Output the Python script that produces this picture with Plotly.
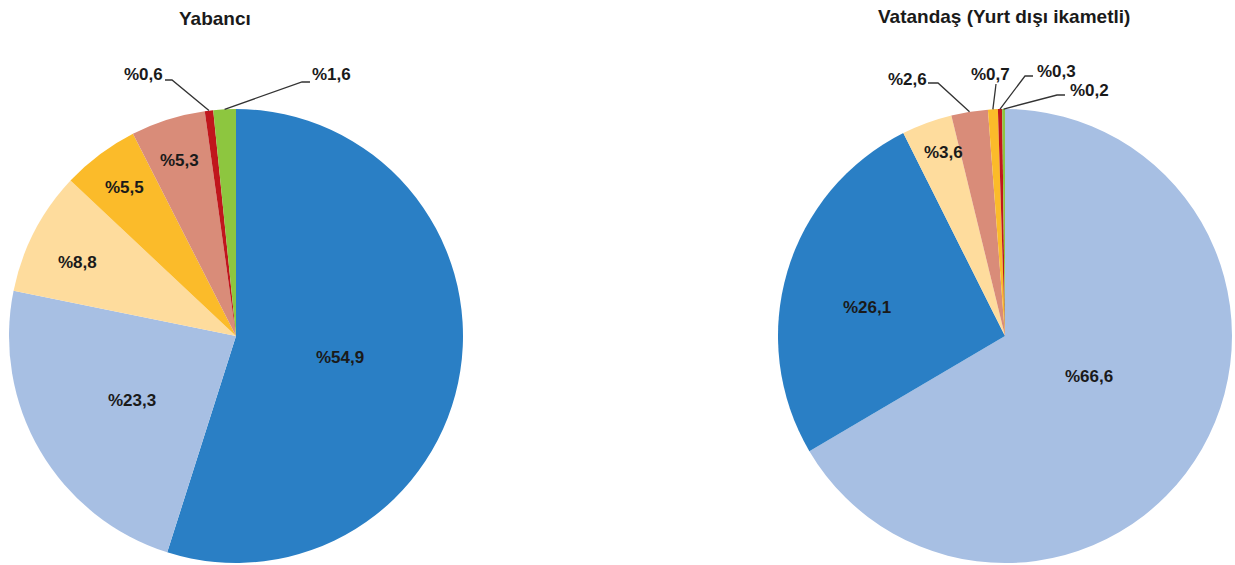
import math
import plotly.graph_objects as go

W, H = 1235, 565

# ---- data ----
titles = ["Yabancı", "Vatandaş (Yurt dışı ikametli)"]
left_values = [54.9, 23.3, 8.8, 5.5, 5.3, 0.6, 1.6]
left_labels = ["%54,9", "%23,3", "%8,8", "%5,5", "%5,3", "%0,6", "%1,6"]
left_colors = ["#2A7FC5", "#A7BFE3", "#FEDC9D", "#FBBB2A", "#D98C79", "#C0161C", "#8DC63F"]
right_values = [66.6, 26.1, 3.6, 2.6, 0.7, 0.3, 0.2]
right_labels = ["%66,6", "%26,1", "%3,6", "%2,6", "%0,7", "%0,3", "%0,2"]
right_colors = ["#A7BFE3", "#2A7FC5", "#FEDC9D", "#D98C79", "#FBBB2A", "#C0161C", "#8DC63F"]

# ---- layout constants (pixels) ----
R = 227
centers = [(236, 336), (1005, 336)]
title_pos = [(215, 18), (1004, 17)]
# inside label centres (None = outside label with leader line)
left_in = [(340, 357), (132, 401), (77, 263), (124, 188), (179, 160), None, None]
right_in = [(1089, 376), (867, 307), (943, 152), None, None, None, None]
# outside labels: text centre and leader-line points (text side -> elbow)
left_out = {5: ((143, 74), [(165, 80), (172, 80)]),
            6: ((331, 74), [(310, 82), (302, 82)])}
right_out = {3: ((907, 79), [(928, 83), (938, 83)]),
             4: ((990, 74), [(996, 84)]),
             5: ((1056, 71), [(1033, 76), (1025, 76)]),
             6: ((1089, 91), [(1065, 95), (1057, 95)])}

def px(x):
    return x / W

def py(y):
    return 1 - y / H

fig = go.Figure()
annotations = []
shapes = []
font_lbl = dict(family="Liberation Sans, Arial, sans-serif", size=17, color="#1a1a1a")

pies = [(left_values, left_labels, left_colors, left_in, left_out),
        (right_values, right_labels, right_colors, right_in, right_out)]

for i, (vals, labs, cols, ins, outs) in enumerate(pies):
    cx, cy = centers[i]
    fig.add_trace(go.Pie(
        values=vals, labels=labs, marker=dict(colors=cols, line=dict(width=0)),
        sort=False, direction="clockwise", rotation=0,
        textinfo="none", hoverinfo="label", showlegend=False,
        domain=dict(x=[px(cx - R), px(cx + R)], y=[py(cy + R), py(cy - R)]),
    ))
    total = sum(vals)
    cum = 0.0
    for j, v in enumerate(vals):
        theta = 2 * math.pi * (cum + v / 2) / total
        cum += v
        if ins[j] is not None:
            x, y = ins[j]
            annotations.append(dict(x=px(x), y=py(y), xref="paper", yref="paper",
                                    text="<b>%s</b>" % labs[j], showarrow=False,
                                    font=font_lbl, xanchor="center", yanchor="middle"))
        else:
            (tx, ty), pts = outs[j]
            annotations.append(dict(x=px(tx), y=py(ty), xref="paper", yref="paper",
                                    text="<b>%s</b>" % labs[j], showarrow=False,
                                    font=font_lbl, xanchor="center", yanchor="middle"))
            ax = cx + R * math.sin(theta)
            ay = cy - R * math.cos(theta)
            allpts = pts + [(ax, ay)]
            path = "M %f %f" % (px(allpts[0][0]), py(allpts[0][1]))
            for (qx, qy) in allpts[1:]:
                path += " L %f %f" % (px(qx), py(qy))
            shapes.append(dict(type="path", xref="paper", yref="paper", path=path,
                               line=dict(color="#333333", width=1.3)))
    tx, ty = title_pos[i]
    annotations.append(dict(x=px(tx), y=py(ty), xref="paper", yref="paper",
                            text="<b>%s</b>" % titles[i], showarrow=False,
                            font=dict(family="Liberation Sans, Arial, sans-serif", size=19, color="#1a1a1a"),
                            xanchor="center", yanchor="middle"))

fig.update_layout(width=W, height=H, margin=dict(l=0, r=0, t=0, b=0),
                  paper_bgcolor="white", plot_bgcolor="white",
                  annotations=annotations, shapes=shapes)
fig.write_html("out.html", config={"displayModeBar": False},
               post_script="document.body.style.margin='0';document.body.style.overflow='hidden';")
